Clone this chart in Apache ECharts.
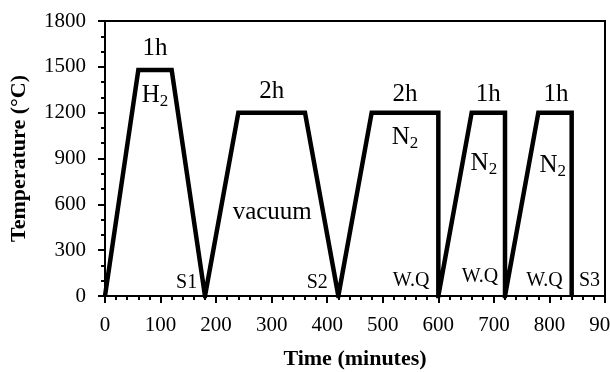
<!DOCTYPE html>
<html>
<head>
<meta charset="utf-8">
<script src="https://cdn.jsdelivr.net/npm/echarts@6/dist/echarts.min.js"></script>
<style>
  html, body { margin: 0; padding: 0; background: #fff; }
  #chart { width: 610px; height: 372px; }
</style>
</head>
<body>
<div id="chart"></div>
<script>
// heat treatment profile (time in minutes, temperature in °C)
var timeMin = [0, 60, 120, 180, 240, 360, 420, 480, 600, 600, 660, 720, 720, 780, 840, 840];
var tempC   = [0, 1480, 1480, 0, 1200, 1200, 0, 1200, 1200, 0, 1200, 1200, 0, 1200, 1200, 0];

// annotations placed in data coordinates
var bigText = ["1h", "{t|H}{s|2}", "2h", "vacuum", "2h", "{t|N}{s|2}", "1h", "{t|N}{s|2}", "1h", "{t|N}{s|2}"];
var bigX    = [90, 90, 300, 301, 540, 540, 690, 682, 812, 806];
var bigY    = [1620, 1310, 1340, 545, 1320, 1040, 1320, 865, 1320, 855];

var smallText = ["S1", "S2", "W.Q", "W.Q", "W.Q", "S3"];
var smallX    = [147, 382, 551, 675, 791, 872];
var smallY    = [88, 88, 98, 128, 98, 98];

var FONT = "Liberation Serif";

var chart = echarts.init(document.getElementById("chart"));

function labelData(texts, xs, ys) {
  var out = [];
  for (var i = 0; i < texts.length; i++) {
    out.push({ name: texts[i], value: [xs[i], ys[i]] });
  }
  return out;
}

var option = {
  animation: false,
  grid: {
    left: 105,
    right: 5,
    top: 21,
    bottom: 76,
    outerBoundsMode: "none",
    containLabel: false,
    show: true,
    borderColor: "#000",
    borderWidth: 2,
    backgroundColor: "transparent"
  },
  xAxis: {
    type: "value",
    min: 0,
    max: 900,
    interval: 100,
    name: "Time (minutes)",
    nameLocation: "middle",
    nameGap: 52,
    nameTextStyle: { fontFamily: FONT, fontWeight: "bold", fontSize: 22, color: "#000" },
    axisLine: { lineStyle: { color: "#000", width: 2 } },
    axisTick: { show: true, inside: false, length: 7, lineStyle: { color: "#000", width: 2 } },
    minorTick: { show: true, splitNumber: 5, length: 4, lineStyle: { color: "#000", width: 2 } },
    splitLine: { show: false },
    axisLabel: { fontFamily: FONT, fontSize: 21, color: "#000", margin: 19, showMaxLabel: true,
      formatter: function (v) { return String(v); } }
  },
  yAxis: {
    type: "value",
    min: 0,
    max: 1800,
    interval: 300,
    name: "Temperature (\u00b0C)",
    nameLocation: "middle",
    nameGap: 75,
    nameTextStyle: { fontFamily: FONT, fontWeight: "bold", fontSize: 22, color: "#000" },
    axisLine: { show: true, lineStyle: { color: "#000", width: 2 } },
    axisTick: { show: true, inside: false, length: 7, lineStyle: { color: "#000", width: 2 } },
    minorTick: { show: true, splitNumber: 3, length: 4, lineStyle: { color: "#000", width: 2 } },
    splitLine: { show: false },
    axisLabel: { fontFamily: FONT, fontSize: 21, color: "#000", margin: 19,
      formatter: function (v) { return String(v); } }
  },
  series: [
    {
      type: "line",
      data: timeMin.map(function (t, i) { return [t, tempC[i]]; }),
      symbol: "none",
      clip: true,
      lineStyle: { color: "#000", width: 4.5, join: "miter", miterLimit: 20 },
      z: 3
    },
    {
      type: "scatter",
      data: labelData(bigText, bigX, bigY),
      symbolSize: 0,
      silent: true,
      itemStyle: { opacity: 1 },
      label: {
        show: true,
        position: "inside",
        formatter: "{b}",
        fontFamily: FONT,
        fontSize: 25,
        color: "#000",
        opacity: 1,
        textBorderWidth: 0,
        rich: {
          t: { fontFamily: FONT, fontSize: 25, color: "#000", textBorderWidth: 0 },
          s: { fontFamily: FONT, fontSize: 17, color: "#000", textBorderWidth: 0, padding: [12, 0, 0, 0] }
        }
      },
      z: 4
    },
    {
      type: "scatter",
      data: labelData(smallText, smallX, smallY),
      symbolSize: 0,
      silent: true,
      itemStyle: { opacity: 1 },
      label: {
        show: true,
        position: "inside",
        formatter: "{b}",
        fontFamily: FONT,
        fontSize: 20,
        color: "#000",
        opacity: 1,
        textBorderWidth: 0
      },
      z: 4
    }
  ]
};

chart.setOption(option);
</script>
</body>
</html>
